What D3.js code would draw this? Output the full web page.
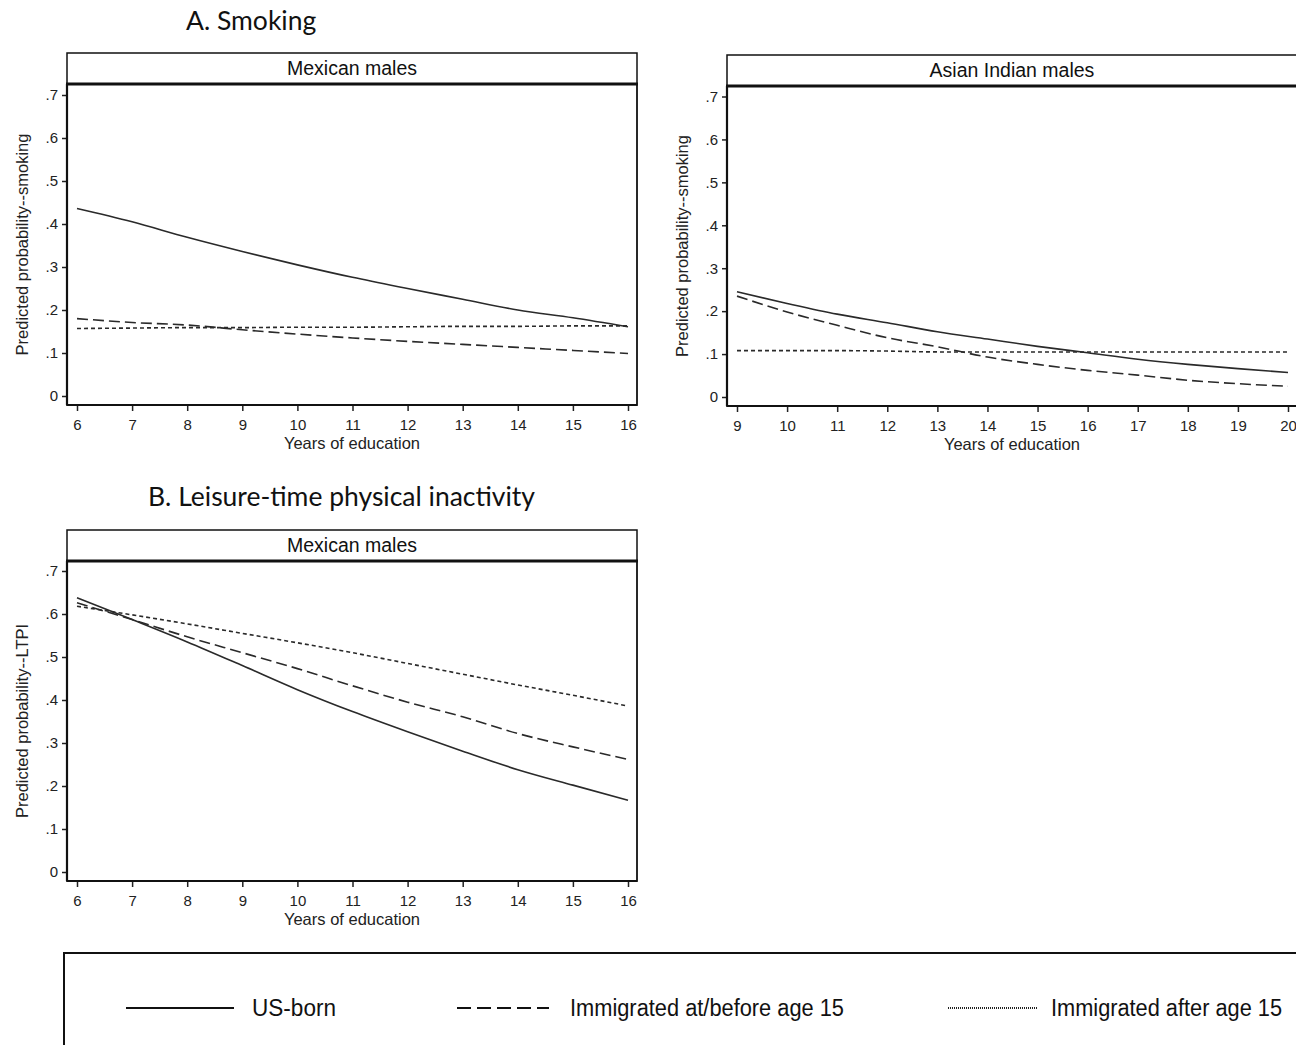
<html>
<head>
<meta charset="utf-8">
<title>Predicted probability by years of education</title>
<script src="https://cdnjs.cloudflare.com/ajax/libs/d3/7.8.5/d3.min.js"></script>
<style>
  body { margin: 0; background: #fff; }
  svg { display: block; }
  .tick text { font-family: Arial, 'Liberation Sans', sans-serif; font-size: 15px; fill: #222; }
  .tick line { stroke: #222; stroke-width: 1.5; }
  .title { font-family: Lato, 'Liberation Sans', sans-serif; font-size: 26.5px; fill: #111; }
  .head { font-family: Arial, 'Liberation Sans', sans-serif; font-size: 19.5px; fill: #111; }
  .axtitle { font-family: Arial, 'Liberation Sans', sans-serif; font-size: 16.5px; fill: #222; }
  .legtext { font-family: 'Liberation Sans Narrow', 'Arial Narrow', Arial, sans-serif; font-size: 23px; fill: #111; }
</style>
</head>
<body>
<script>
// ---- data ----
var mexYears = [6, 7, 8, 9, 10, 11, 12, 13, 14, 15, 16];
var indYears = [9, 10, 11, 12, 13, 14, 15, 16, 17, 18, 19, 20];

// A. smoking, Mexican males
var mexSmokeUS     = [0.436, 0.405, 0.369, 0.336, 0.305, 0.276, 0.250, 0.225, 0.200, 0.182, 0.161];
var mexSmokeEarly  = [0.180, 0.171, 0.165, 0.154, 0.144, 0.135, 0.127, 0.120, 0.113, 0.106, 0.099];
var mexSmokeLate   = [0.157, 0.158, 0.159, 0.159, 0.160, 0.160, 0.161, 0.162, 0.162, 0.163, 0.163];

// A. smoking, Asian Indian males
var indSmokeUS     = [0.245, 0.218, 0.193, 0.173, 0.152, 0.135, 0.118, 0.103, 0.088, 0.076, 0.066, 0.057];
var indSmokeEarly  = [0.235, 0.198, 0.167, 0.138, 0.117, 0.093, 0.076, 0.062, 0.051, 0.039, 0.031, 0.025];
var indSmokeLate   = [0.108, 0.108, 0.108, 0.107, 0.105, 0.105, 0.105, 0.105, 0.105, 0.105, 0.105, 0.105];

// B. leisure-time physical inactivity, Mexican males
var mexLtpiUS      = [0.638, 0.587, 0.535, 0.480, 0.424, 0.373, 0.326, 0.281, 0.238, 0.202, 0.167];
var mexLtpiEarly   = [0.626, 0.587, 0.547, 0.510, 0.473, 0.433, 0.395, 0.361, 0.322, 0.291, 0.262];
var mexLtpiLate    = [0.618, 0.598, 0.577, 0.555, 0.533, 0.510, 0.485, 0.460, 0.435, 0.411, 0.386];

var yTicks = [0, 0.1, 0.2, 0.3, 0.4, 0.5, 0.6, 0.7];
var seriesNames = ['US-born', 'Immigrated at/before age 15', 'Immigrated after age 15'];
var dashes = [null, '11,5', '4,3'];

var svg = d3.select('body').append('svg')
    .attr('width', 1296)
    .attr('height', 1045);

svg.append('rect').attr('width', 1296).attr('height', 1045).attr('fill', '#fff');

svg.append('text').attr('class', 'title').attr('x', 186).attr('y', 30).text('A. Smoking');
svg.append('text').attr('class', 'title').attr('x', 148).attr('y', 506)
    .attr('textLength', 387).attr('lengthAdjust', 'spacingAndGlyphs')
    .text('B. Leisure-time physical inactivity');

function drawPanel(p) {
    var g = svg.append('g');
    var x = d3.scaleLinear().domain(d3.extent(p.years)).range(p.xr);
    var y = d3.scaleLinear().domain([0, 0.7]).range(p.yr);

    // header strip
    g.append('rect')
        .attr('x', p.left).attr('y', p.top)
        .attr('width', p.right - p.left).attr('height', p.head - p.top)
        .attr('fill', '#fff').attr('stroke', '#111').attr('stroke-width', 1.5);
    g.append('text').attr('class', 'head')
        .attr('x', (p.left + p.right) / 2).attr('y', p.top + 22)
        .attr('text-anchor', 'middle')
        .text(p.name);

    // plot frame
    g.append('rect')
        .attr('x', p.left).attr('y', p.head)
        .attr('width', p.right - p.left).attr('height', p.bottom - p.head)
        .attr('fill', 'none').attr('stroke', '#111').attr('stroke-width', 1.8);
    g.append('line')
        .attr('x1', p.left - 1).attr('x2', p.right + 1)
        .attr('y1', p.head).attr('y2', p.head)
        .attr('stroke', '#111').attr('stroke-width', 3.2);

    var yAxis = g.append('g')
        .attr('transform', 'translate(' + p.left + ',0)')
        .call(d3.axisLeft(y).tickValues(yTicks).tickSize(5).tickPadding(4)
            .tickFormat(function(d) { return d === 0 ? '0' : d3.format('.1f')(d).replace(/^0/, ''); }));
    yAxis.select('.domain').remove();

    var xAxis = g.append('g')
        .attr('transform', 'translate(0,' + p.bottom + ')')
        .call(d3.axisBottom(x).tickValues(p.years).tickSize(6).tickPadding(8).tickFormat(d3.format('d')));
    xAxis.select('.domain').remove();
    g.append('line')
        .attr('x1', p.left).attr('x2', p.right)
        .attr('y1', p.bottom).attr('y2', p.bottom)
        .attr('stroke', '#111').attr('stroke-width', 2.2);
    g.append('line')
        .attr('x1', p.left).attr('x2', p.left)
        .attr('y1', p.head).attr('y2', p.bottom)
        .attr('stroke', '#111').attr('stroke-width', 2.2);

    g.append('text').attr('class', 'axtitle')
        .attr('x', (p.left + p.right) / 2).attr('y', p.bottom + 44)
        .attr('text-anchor', 'middle')
        .text('Years of education');
    g.append('text').attr('class', 'axtitle')
        .attr('transform', 'translate(' + (p.left - 39) + ',' + ((p.head + p.bottom) / 2) + ') rotate(-90)')
        .attr('text-anchor', 'middle')
        .text(p.ytitle);

    var line = d3.line()
        .x(function(d, i) { return x(p.years[i]); })
        .y(function(d) { return y(d); })
        .curve(d3.curveMonotoneX);

    p.series.forEach(function(s, i) {
        g.append('path')
            .attr('d', line(s))
            .attr('fill', 'none')
            .attr('stroke', '#2a2a2a')
            .attr('stroke-width', 1.6)
            .attr('stroke-dasharray', dashes[i]);
    });
}

drawPanel({
    name: 'Mexican males', ytitle: 'Predicted probability--smoking',
    left: 67, right: 637, top: 53, head: 84, bottom: 405,
    xr: [77, 628], yr: [396, 95],
    years: mexYears, series: [mexSmokeUS, mexSmokeEarly, mexSmokeLate]
});
drawPanel({
    name: 'Asian Indian males', ytitle: 'Predicted probability--smoking',
    left: 727, right: 1297, top: 55, head: 86, bottom: 406,
    xr: [737, 1288], yr: [397, 96.5],
    years: indYears, series: [indSmokeUS, indSmokeEarly, indSmokeLate]
});
drawPanel({
    name: 'Mexican males', ytitle: 'Predicted probability--LTPI',
    left: 67, right: 637, top: 530, head: 561, bottom: 881,
    xr: [77, 628], yr: [872, 571],
    years: mexYears, series: [mexLtpiUS, mexLtpiEarly, mexLtpiLate]
});

// legend
var leg = svg.append('g');
leg.append('rect')
    .attr('x', 64).attr('y', 953).attr('width', 1300).attr('height', 200)
    .attr('fill', 'none').attr('stroke', '#111').attr('stroke-width', 2);

var legItems = [
    { x1: 126, x2: 234, tx: 252, tw: 84, dash: null, w: 1.8, c: '#111' },
    { x1: 457, x2: 549, tx: 570, tw: 274, dash: '14,6', w: 1.8, c: '#111' },
    { x1: 948, x2: 1038, tx: 1051, tw: 231, dash: '1,1', w: 2.2, c: '#222' }
];
legItems.forEach(function(d, i) {
    leg.append('line')
        .attr('x1', d.x1).attr('x2', d.x2).attr('y1', 1008).attr('y2', 1008)
        .attr('stroke', d.c).attr('stroke-width', d.w)
        .attr('stroke-dasharray', d.dash);
    leg.append('text').attr('class', 'legtext')
        .attr('x', d.tx).attr('y', 1016)
        .attr('textLength', d.tw).attr('lengthAdjust', 'spacingAndGlyphs')
        .text(seriesNames[i]);
});
</script>
</body>
</html>
